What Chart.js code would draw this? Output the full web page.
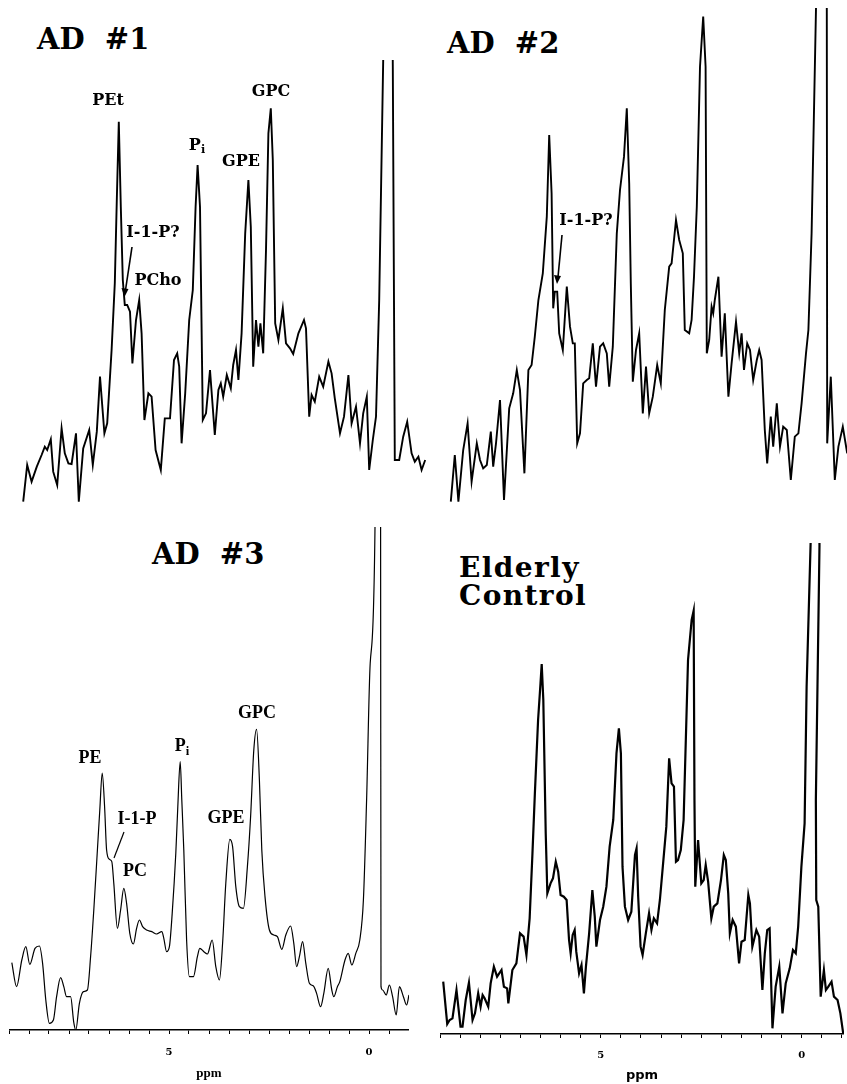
<!DOCTYPE html>
<html>
<head>
<meta charset="utf-8">
<script src="https://cdn.jsdelivr.net/npm/chart.js@4.4.0/dist/chart.umd.min.js"></script>
<style>
  html, body { margin: 0; padding: 0; background: #fff; }
  body { width: 847px; height: 1084px; position: relative; overflow: hidden; }
  canvas { position: absolute; }
  .title { position: absolute; font-family: "DejaVu Serif", serif; font-weight: bold; font-size: 29px; white-space: pre; line-height: 1; color: #000; }
  .lbl { position: absolute; font-family: "DejaVu Serif", serif; font-weight: bold; font-size: 16px; line-height: 1; transform: translate(-50%, -50%); white-space: nowrap; color: #000; }
  .lbl3 { font-family: "Liberation Serif", serif; font-size: 18px; }
  .sub { font-size: 0.7em; position: relative; top: 0.3em; }
  svg { position: absolute; left: 0; top: 0; }
</style>
</head>
<body>
<div class="title" style="left:37px; top:25px;">AD  #1</div>
<div class="title" style="left:447px; top:29px;">AD  #2</div>
<div class="title" style="left:152px; top:540px;">AD  #3</div>
<div class="title" style="left:459px; top:554px; font-size:28px; line-height:28px; letter-spacing:1.4px;">Elderly<br>Control</div>

<canvas id="ad1"></canvas>
<canvas id="ad2"></canvas>
<canvas id="ad3"></canvas>
<canvas id="ctl"></canvas>

<div class="lbl" style="left:108px; top:100px;">PEt</div>
<div class="lbl" style="left:197px; top:145px;">P<span class="sub">i</span></div>
<div class="lbl" style="left:241px; top:161px;">GPE</div>
<div class="lbl" style="left:271px; top:91px;">GPC</div>
<div class="lbl" style="left:153px; top:232px;">I-1-P?</div>
<div class="lbl" style="left:158px; top:280px;">PCho</div>
<div class="lbl" style="left:586px; top:220px;">I-1-P?</div>

<div class="lbl lbl3" style="left:90px; top:757px;">PE</div>
<div class="lbl lbl3" style="left:182px; top:745px;">P<span class="sub">i</span></div>
<div class="lbl lbl3" style="left:257px; top:712px;">GPC</div>
<div class="lbl lbl3" style="left:137px; top:818px;">I-1-P</div>
<div class="lbl lbl3" style="left:135px; top:870px;">PC</div>
<div class="lbl lbl3" style="left:226px; top:817px;">GPE</div>

<svg width="847" height="1084">
  <line x1="132" y1="247" x2="125.5" y2="290" stroke="#000" stroke-width="1.6"/>
  <polygon points="124.5,297 121.5,288 128.5,289" fill="#000"/>
  <line x1="562" y1="235" x2="558" y2="277" stroke="#000" stroke-width="1.6"/>
  <polygon points="557,284 554,275 561,276" fill="#000"/>
  <line x1="124" y1="832" x2="114" y2="858" stroke="#000" stroke-width="1.2"/>
</svg>

<script>
// chemical shift (ppm) and intensity (arbitrary units)
const ad1Ppm = [9.07, 8.97, 8.86, 8.73, 8.61, 8.53, 8.47, 8.38, 8.32, 8.22,
  8.11, 8.03, 7.94, 7.86, 7.75, 7.68, 7.57, 7.42, 7.33, 7.23,
  7.15, 7.04, 6.97, 6.86, 6.78, 6.73, 6.68, 6.63, 6.58, 6.53,
  6.47, 6.40, 6.34, 6.25, 6.17, 6.11, 6.04, 5.94, 5.86, 5.76,
  5.63, 5.53, 5.40, 5.30, 5.22, 5.17, 5.11, 5.02, 4.92, 4.83,
  4.76, 4.71, 4.65, 4.58, 4.50, 4.40, 4.28, 4.19, 4.13, 4.07,
  3.98, 3.88, 3.82, 3.75, 3.69, 3.61, 3.52, 3.44, 3.38, 3.32,
  3.25, 3.19, 3.14, 3.07, 3.00, 2.94, 2.88, 2.83, 2.77, 2.69,
  2.58, 2.50, 2.40, 2.32, 2.19, 2.05, 2.00, 1.92, 1.86, 1.78,
  1.67, 1.57, 1.44, 1.36, 1.28, 1.15, 1.05, 0.94, 0.86, 0.75,
  0.65, 0.57, 0.48, 0.42, 0.33, 0.25, 0.17, 0.07, -0.05, -0.17,
  -0.22, -0.33, -0.43, -0.53, -0.64, -0.72, -0.81, -0.89, -0.98];
const ad1Int = [25, 135, 85, 130, 165, 190, 180, 212, 115, 75,
  245, 170, 140, 138, 230, 25, 185, 240, 135, 235,
  400, 230, 260, 480, 680, 930, 1165, 910, 690, 615,
  615, 595, 440, 570, 630, 530, 270, 350, 340, 180,
  120, 275, 275, 450, 470, 430, 200, 350, 570, 660,
  910, 1035, 910, 270, 290, 420, 225, 360, 380, 340,
  405, 365, 435, 480, 390, 530, 830, 990, 850, 430,
  570, 490, 560, 470, 780, 1130, 1205, 1050, 560, 510,
  605, 500, 485, 468, 530, 570, 545, 280, 345, 325,
  400, 370, 445, 410, 335, 230, 280, 405, 260, 310,
  200, 290, 340, 120, 210, 280, 630, 1350, 3000, 1335,
  150, 150, 220, 265, 170, 145, 160, 120, 150];

const ad2Ppm = [8.93, 8.83, 8.74, 8.62, 8.51, 8.41, 8.28, 8.20, 8.12, 8.03,
  7.93, 7.87, 7.80, 7.70, 7.60, 7.47, 7.37, 7.28, 7.20, 7.09,
  6.99, 6.91, 6.83, 6.74, 6.63, 6.53, 6.47, 6.41, 6.37, 6.33,
  6.27, 6.22, 6.13, 6.03, 5.95, 5.88, 5.83, 5.77, 5.70, 5.62,
  5.53, 5.47, 5.38, 5.30, 5.20, 5.12, 5.03, 4.97, 4.88, 4.78,
  4.70, 4.60, 4.53, 4.47, 4.43, 4.38, 4.30, 4.22, 4.13, 4.05,
  3.97, 3.88, 3.77, 3.68, 3.58, 3.47, 3.41, 3.30, 3.22, 3.13,
  3.08, 2.97, 2.91, 2.85, 2.78, 2.70, 2.62, 2.56, 2.53, 2.47,
  2.41, 2.37, 2.33, 2.24, 2.16, 2.08, 1.99, 1.91, 1.80, 1.72,
  1.66, 1.60, 1.52, 1.45, 1.37, 1.28, 1.22, 1.16, 1.08, 1.02,
  0.93, 0.87, 0.78, 0.70, 0.62, 0.53, 0.43, 0.33, 0.24, 0.16,
  0.05, -0.01, -0.09, -0.20, -0.33, -0.47, -0.48, -0.57, -0.67, -0.76,
  -0.87, -0.98];
const ad2Int = [25, 165, 25, 180, 260, 85, 200, 150, 125, 135,
  235, 130, 200, 330, 30, 305, 350, 420, 360, 110,
  420, 435, 520, 630, 710, 880, 1125, 950, 605, 655,
  655, 530, 480, 670, 550, 500, 500, 200, 230, 380,
  390, 395, 500, 370, 490, 500, 470, 370, 490, 830,
  960, 1060, 1205, 980, 680, 385, 480, 530, 290, 430,
  290, 340, 435, 380, 600, 730, 740, 870, 810, 770,
  540, 530, 570, 700, 910, 1330, 1480, 1330, 470, 510,
  610, 590, 630, 700, 460, 590, 340, 440, 565, 470,
  530, 420, 500, 480, 390, 450, 480, 450, 240, 140,
  280, 190, 320, 190, 250, 240, 90, 220, 230, 320,
  470, 540, 830, 1505, 4000, 1500, 200, 400, 90, 190,
  250, 170];

const ad3Ppm = [8.93, 8.81, 8.68, 8.58, 8.48, 8.35, 8.24, 8.16, 8.08, 7.99,
  7.89, 7.81, 7.71, 7.63, 7.56, 7.46, 7.38, 7.33, 7.24, 7.14,
  7.04, 6.96, 6.88, 6.79, 6.73, 6.67, 6.61, 6.56, 6.49, 6.43,
  6.38, 6.29, 6.21, 6.13, 6.06, 5.98, 5.89, 5.81, 5.74, 5.66,
  5.56, 5.43, 5.31, 5.18, 5.13, 5.06, 4.99, 4.92, 4.83, 4.78,
  4.72, 4.68, 4.63, 4.56, 4.49, 4.39, 4.29, 4.23, 4.13, 4.04,
  3.92, 3.83, 3.74, 3.66, 3.58, 3.48, 3.41, 3.33, 3.24, 3.14,
  3.04, 2.96, 2.88, 2.81, 2.74, 2.68, 2.60, 2.49, 2.38, 2.29,
  2.18, 2.08, 1.96, 1.88, 1.81, 1.74, 1.66, 1.58, 1.49, 1.39,
  1.31, 1.21, 1.13, 1.02, 0.93, 0.88, 0.79, 0.73, 0.60, 0.52,
  0.43, 0.33, 0.23, 0.14, 0.06, -0.03, -0.15, -0.22, -0.29, -0.30,
  -0.34, -0.43, -0.51, -0.59, -0.68, -0.76, -0.86, -0.94, -1.0];
const ad3Int = [202, 130, 210, 250, 197, 245, 252, 200, 90, 20,
  30, 100, 157, 130, 100, 100, 22, 0, 80, 115,
  120, 220, 360, 540, 660, 771, 670, 540, 512, 505,
  440, 305, 360, 425, 380, 290, 258, 305, 330, 310,
  300, 295, 288, 295, 275, 235, 250, 350, 530, 670,
  805, 690, 540, 270, 160, 160, 220, 245, 235, 228,
  270, 190, 150, 260, 440, 572, 550, 430, 370, 365,
  490, 640, 840, 902, 750, 540, 400, 300, 285, 280,
  242, 285, 312, 260, 190, 220, 265, 200, 140, 132,
  110, 70, 110, 185, 120, 100, 130, 145, 210, 230,
  195, 230, 270, 390, 690, 1100, 1510, 4000, 1510, 130,
  120, 105, 135, 100, 45, 130, 100, 75, 105];

const ctlPpm = [8.92, 8.82, 8.76, 8.69, 8.59, 8.49, 8.44, 8.36, 8.28, 8.19,
  8.13, 8.05, 7.99, 7.94, 7.89, 7.80, 7.74, 7.66, 7.58, 7.47,
  7.41, 7.33, 7.30, 7.20, 7.10, 7.01, 6.92, 6.85, 6.77, 6.70,
  6.64, 6.56, 6.50, 6.47, 6.43, 6.37, 6.33, 6.25, 6.19, 6.12,
  6.06, 6.00, 5.92, 5.85, 5.79, 5.75, 5.70, 5.65, 5.61, 5.54,
  5.48, 5.42, 5.37, 5.29, 5.21, 5.15, 5.11, 5.02, 4.94, 4.86,
  4.78, 4.69, 4.61, 4.55, 4.50, 4.46, 4.40, 4.32, 4.24, 4.15,
  4.11, 4.07, 4.01, 3.96, 3.88, 3.80, 3.74, 3.68, 3.60, 3.53,
  3.45, 3.37, 3.30, 3.24, 3.18, 3.13, 3.08, 3.01, 2.94, 2.83,
  2.74, 2.69, 2.67, 2.65, 2.58, 2.50, 2.44, 2.39, 2.33, 2.25,
  2.19, 2.10, 2.01, 1.94, 1.89, 1.83, 1.79, 1.72, 1.64, 1.56,
  1.50, 1.42, 1.33, 1.29, 1.23, 1.13, 1.06, 0.98, 0.92, 0.86,
  0.80, 0.73, 0.65, 0.56, 0.48, 0.40, 0.30, 0.22, 0.15, 0.09,
  0.01, -0.07, -0.12, -0.22, -0.33, -0.44, -0.35, -0.36, -0.41, -0.47,
  -0.55, -0.60, -0.66, -0.74, -0.80, -0.89, -0.96, -1.03];
const ctlInt = [157, 30, 42, 47, 132, 22, 22, 102, 154, 42,
  62, 122, 82, 117, 107, 82, 152, 202, 172, 192,
  142, 137, 92, 192, 212, 302, 292, 237, 347, 542,
  722, 942, 1052, 1110, 1002, 602, 422, 452, 467, 517,
  487, 417, 412, 402, 282, 242, 297, 312, 247, 182,
  207, 122, 202, 302, 432, 352, 262, 342, 382, 442,
  562, 642, 842, 917, 842, 502, 382, 342, 367, 537,
  557, 412, 262, 237, 302, 362, 312, 347, 332, 402,
  512, 622, 827, 752, 742, 517, 522, 552, 642, 1122,
  1242, 1270, 702, 442, 582, 452, 462, 507, 457, 347,
  382, 392, 462, 537, 522, 422, 302, 342, 322, 212,
  277, 282, 417, 392, 262, 312, 292, 132, 242, 312,
  317, 17, 142, 202, 62, 152, 197, 252, 242, 322,
  502, 632, 1042, 1474, 4000, 1464, 702, 402, 382, 112,
  192, 132, 142, 157, 112, 102, 62, 2];

// x-axis tick labels shown on the lower panels (value, text)
const tickLabels = [[5, '5'], [0, '0']];

// draws the labelled ticks through the x scale, so the axis keeps its full width
const tickLabelPlugin = {
  id: 'tickLabelPlugin',
  afterDraw(chart, args, opts) {
    const s = chart.scales.x;
    if (!s || !s.options.display) return;
    const ctx = chart.ctx;
    ctx.save();
    ctx.fillStyle = '#000';
    ctx.font = 'bold 10px "DejaVu Serif"';
    ctx.textAlign = 'center';
    ctx.textBaseline = 'middle';
    tickLabels.forEach(([v, t]) => ctx.fillText(t, s.getPixelForValue(v), s.top + opts.dy));
    ctx.restore();
  }
};

function placeCanvas(id, left, top, w, h) {
  const c = document.getElementById(id);
  c.width = w; c.height = h;
  c.style.left = left + 'px'; c.style.top = top + 'px';
  return c;
}

function spectrum(id, ppm, inten, o) {
  const c = placeCanvas(id, o.left, o.top, o.w, o.h);
  const pts = ppm.map((x, i) => ({ x: x, y: inten[i] }));
  const xScale = {
    type: 'linear', reverse: true, min: o.xMin, max: o.xMax,
    display: !!o.axis
  };
  if (o.axis) {
    Object.assign(xScale, {
      afterFit: s => { s.height = 54; },
      border: { display: true, color: '#000', width: 1.5 },
      grid: { display: true, drawOnChartArea: false, drawTicks: true, tickLength: 4, color: '#000', lineWidth: 1 },
      ticks: { display: false, stepSize: 0.5, autoSkip: false, includeBounds: false },
      title: {
        display: true, text: 'ppm', color: '#000',
        font: { family: o.ppmFont, size: 13, weight: 'bold' },
        padding: { top: 0, bottom: o.titlePad }
      }
    });
  }
  return new Chart(c, {
    type: 'line',
    data: {
      datasets: [{
        data: pts,
        borderColor: '#000',
        borderWidth: o.lw,
        pointRadius: 0,
        tension: 0,
        cubicInterpolationMode: o.smooth ? 'monotone' : 'default',
        fill: false
      }]
    },
    options: {
      responsive: false,
      animation: false,
      events: [],
      layout: { padding: 0 },
      plugins: {
        legend: { display: false },
        tooltip: { enabled: false },
        tickLabelPlugin: { dy: o.labelDy || 22 }
      },
      scales: {
        x: xScale,
        y: { type: 'linear', display: false, min: 0, max: o.yMax }
      }
    },
    plugins: [tickLabelPlugin]
  });
}

spectrum('ad1', ad1Ppm, ad1Int, { left: 22, top: 60, w: 404, h: 450, xMin: -1.0, xMax: 9.1, yMax: 1350, lw: 1.9 });
spectrum('ad2', ad2Ppm, ad2Int, { left: 448, top: 8, w: 400, h: 502, xMin: -1.0, xMax: 9.0, yMax: 1506, lw: 1.9 });
spectrum('ad3', ad3Ppm, ad3Int, { left: 9, top: 527, w: 400, h: 557, xMin: -1.0, xMax: 9.0, yMax: 1509, lw: 1.2,
  axis: true, smooth: true, labelDy: 22, titlePad: 3, ppmFont: 'Liberation Serif' });
spectrum('ctl', ctlPpm, ctlInt, { left: 440, top: 543, w: 404, h: 545, xMin: -1.05, xMax: 9.0, yMax: 1473, lw: 2.2,
  axis: true, labelDy: 21, titlePad: 5, ppmFont: 'DejaVu Sans' });
</script>
</body>
</html>
